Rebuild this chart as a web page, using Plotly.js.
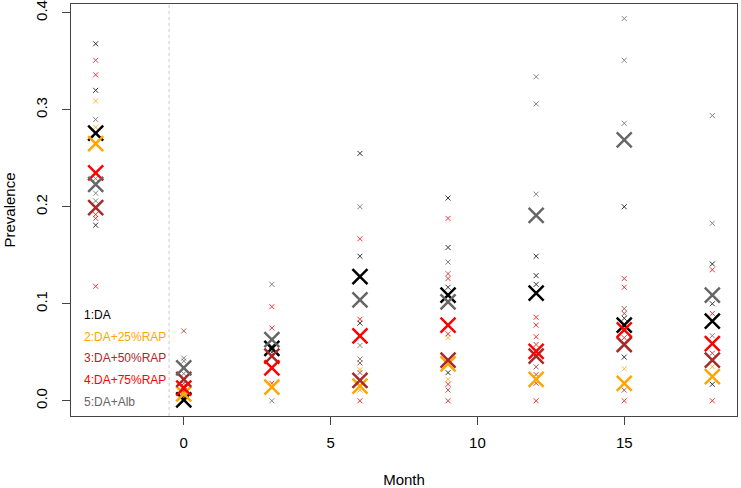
<!DOCTYPE html>
<html>
<head>
<meta charset="utf-8">
<script src="https://cdn.plot.ly/plotly-3.0.1.min.js"></script>
<style>html,body{margin:0;padding:0;background:#fff;}#chart{width:741px;height:488px;}</style>
</head>
<body>
<div id="chart"></div>
<script>
// ---- data ----
const months = [-3, 0, 3, 6, 9, 12, 15, 18];
const armNames = ['1:DA', '2:DA+25%RAP', '3:DA+50%RAP', '4:DA+75%RAP', '5:DA+Alb'];

// arm means (large X)
const meanDA    = [0.276, 0.001, 0.054, 0.128, 0.109, 0.111, 0.078, 0.082];
const meanRAP25 = [0.265, 0.007, 0.014, 0.015, 0.038, 0.022, 0.018, 0.025];
const meanRAP50 = [0.199, 0.022, 0.046, 0.021, 0.042, 0.046, 0.058, 0.042];
const meanRAP75 = [0.235, 0.013, 0.034, 0.067, 0.078, 0.051, 0.073, 0.059];
const meanAlb   = [0.223, 0.034, 0.063, 0.104, 0.102, 0.191, 0.269, 0.109];

// individual site values (small x)
const ptMonthDA = [-3,-3,-3, 0,0, 3,3, 6,6,6, 9,9,9,9, 12,12,12, 15,15,15, 18,18,18];
const ptValDA   = [0.368,0.320,0.181, 0.000,0.004, 0.056,0.050, 0.255,0.149,0.080, 0.209,0.158,0.117,0.029, 0.149,0.129,0.120, 0.200,0.085,0.045, 0.141,0.100,0.017];

const ptMonthRAP25 = [-3,-3, 0,0, 3, 6,6, 9,9, 15, 18];
const ptValRAP25   = [0.309,0.282, 0.010,0.003, 0.035, 0.032,0.011, 0.065,0.022, 0.033, 0.035];

const ptMonthRAP50 = [-3,-3, 0,0, 3, 6,6, 9,9, 12,12, 15,15,15, 18];
const ptValRAP50   = [0.351,0.188, 0.072,0.018, 0.046, 0.039,0.029, 0.131,0.011, 0.035,0.018, 0.095,0.090,0.011, 0.049];

const ptMonthRAP75 = [-3,-3,-3, 0,0, 3,3,3, 6,6,6, 9,9,9,9,9, 12,12,12,12,12,12, 15,15,15,15, 18,18,18];
const ptValRAP75   = [0.336,0.192,0.118, 0.015,0.010, 0.097,0.075,0.018, 0.167,0.084,0.000, 0.188,0.126,0.069,0.017,0.000, 0.086,0.078,0.066,0.058,0.027,0.000, 0.126,0.117,0.065,0.000, 0.135,0.090,0.000];

const ptMonthAlb = [-3,-3,-3,-3, 0,0,0, 3,3, 6,6,6, 9, 12,12,12, 15,15,15, 18,18,18];
const ptValAlb   = [0.290,0.229,0.214,0.206, 0.044,0.041,0.028, 0.120,0.000, 0.200,0.057,0.043, 0.143, 0.334,0.306,0.213, 0.394,0.351,0.286, 0.294,0.183,0.067];

const xTicks = [0, 5, 10, 15];
const yTicks = [0, 0.1, 0.2, 0.3, 0.4];
const yTickText = ['0.0', '0.1', '0.2', '0.3', '0.4'];
const baselineDivider = -0.5;

// ---- styling ----
const armColors = ['#000000', '#FFA500', '#A52A2A', '#FF0000', '#666666'];
const FONT = 'Liberation Sans, Arial, Helvetica, sans-serif';

const ptMonths = [ptMonthDA, ptMonthRAP25, ptMonthRAP50, ptMonthRAP75, ptMonthAlb];
const ptVals = [ptValDA, ptValRAP25, ptValRAP50, ptValRAP75, ptValAlb];
const means = [meanDA, meanRAP25, meanRAP50, meanRAP75, meanAlb];

const traces = [];
for (let i = 0; i < 5; i++) {
  traces.push({
    type: 'scatter', mode: 'markers', name: armNames[i] + ' sites',
    x: ptMonths[i], y: ptVals[i], showlegend: false, hoverinfo: 'x+y',
    marker: {symbol: 'x-thin', size: 5, color: armColors[i], opacity: 0.8,
             line: {color: armColors[i], width: 1}}
  });
}
for (let i = 0; i < 5; i++) {
  traces.push({
    type: 'scatter', mode: 'markers', name: armNames[i],
    x: months, y: means[i], showlegend: false, hoverinfo: 'x+y',
    marker: {symbol: 'x-thin', size: 15, color: armColors[i],
             line: {color: armColors[i], width: 2.5}}
  });
}

const legendY = [0.245, 0.1925, 0.14, 0.087, 0.035];
const annotations = armNames.map((n, i) => ({
  xref: 'paper', yref: 'paper', x: 0.0165, y: legendY[i],
  xanchor: 'left', yanchor: 'middle', showarrow: false,
  text: n, font: {family: FONT, size: 12, color: armColors[i]}
}));

const layout = {
  width: 741, height: 488,
  margin: {l: 71, r: 4, t: 4, b: 72, pad: 0},
  paper_bgcolor: '#ffffff', plot_bgcolor: '#ffffff',
  font: {family: FONT, size: 15, color: '#000'},
  showlegend: false,
  xaxis: {
    range: [-3.84, 18.84], tickvals: xTicks, ticks: 'outside', ticklen: 8,
    tickcolor: '#444', showline: true, mirror: true, linecolor: '#444', linewidth: 1,
    showgrid: false, zeroline: false, tickfont: {size: 15}, ticklabelstandoff: 5,
    title: {text: 'Month', font: {size: 15}, standoff: 24}
  },
  yaxis: {
    range: [-0.0157, 0.409], tickvals: yTicks, ticktext: yTickText, tickangle: -90,
    ticks: 'outside', ticklen: 8, tickcolor: '#444', ticklabelstandoff: 9,
    showline: true, mirror: true, linecolor: '#444', linewidth: 1,
    showgrid: false, zeroline: false, tickfont: {size: 15},
    title: {text: 'Prevalence', font: {size: 15}, standoff: 13}
  },
  shapes: [{
    type: 'line', xref: 'x', yref: 'paper', x0: baselineDivider, x1: baselineDivider, y0: 0, y1: 1,
    line: {color: '#c8c8c8', width: 1, dash: 'dot'}
  }],
  annotations: annotations
};

Plotly.newPlot('chart', traces, layout, {displayModeBar: false, staticPlot: true});
</script>
</body>
</html>
